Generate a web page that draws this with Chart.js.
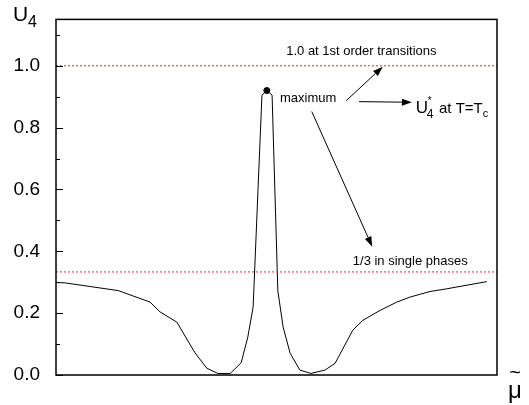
<!DOCTYPE html>
<html>
<head>
<meta charset="utf-8">
<script src="https://cdn.jsdelivr.net/npm/chart.js@4/dist/chart.umd.min.js"></script>
<style>
  body { margin: 0; background: #fff; }
</style>
</head>
<body>
<canvas id="u4Chart" width="529" height="405"></canvas>
<script>
// data (x in arbitrary units 0..1 across the frame)
const muValues = [0, 0.020, 0.141, 0.213, 0.236, 0.274, 0.315, 0.342, 0.367, 0.395,
  0.420, 0.435, 0.447, 0.467, 0.478, 0.490, 0.503, 0.515, 0.531, 0.553,
  0.578, 0.610, 0.633, 0.673, 0.696, 0.735, 0.773, 0.803, 0.848, 0.887, 0.977];
const u4Values = [0.299, 0.298, 0.273, 0.236, 0.204, 0.171, 0.072, 0.022, 0.005, 0.005,
  0.040, 0.123, 0.220, 0.905, 0.920, 0.905, 0.273, 0.155, 0.070, 0.016,
  0.005, 0.016, 0.038, 0.145, 0.177, 0.209, 0.236, 0.252, 0.270, 0.279, 0.302];
const peakPoint = { x: 0.478, y: 0.92 };
const firstOrderLevel = 1.0;
const singlePhaseLevel = 1 / 3;
const yMajorTicks = [0, 0.2, 0.4, 0.6, 0.8, 1.0];
const yMinorTicks = [0.1, 0.3, 0.5, 0.7, 0.9, 1.1];

const FONT = "'Liberation Sans', Arial, sans-serif";

function pts(xs, ys) {
  return xs.map((x, i) => ({ x: x, y: ys[i] }));
}

function arrow(c, x1, y1, x2, y2) {
  const a = Math.atan2(y2 - y1, x2 - x1);
  const len = 10, hw = 3.5;
  c.beginPath();
  c.moveTo(x1, y1);
  c.lineTo(x2 - len * Math.cos(a), y2 - len * Math.sin(a));
  c.stroke();
  c.beginPath();
  c.moveTo(x2, y2);
  c.lineTo(x2 - len * Math.cos(a) + hw * Math.sin(a), y2 - len * Math.sin(a) - hw * Math.cos(a));
  c.lineTo(x2 - len * Math.cos(a) - hw * Math.sin(a), y2 - len * Math.sin(a) + hw * Math.cos(a));
  c.closePath();
  c.fill();
}

// frame, inward ticks, axis titles and the annotations
const decor = {
  id: "decor",
  afterDraw(chart) {
    const c = chart.ctx;
    const a = chart.chartArea;
    const xs = chart.scales.x, ys = chart.scales.y;
    const px = v => xs.getPixelForValue(v);
    const py = v => ys.getPixelForValue(v);
    c.save();
    c.strokeStyle = "#000";
    c.fillStyle = "#000";
    c.lineWidth = 1.5;
    c.strokeRect(a.left, a.top, a.right - a.left, a.bottom - a.top);

    c.lineWidth = 1;
    c.beginPath();
    yMajorTicks.forEach(v => { const y = Math.round(py(v)) + 0.5; c.moveTo(a.left, y); c.lineTo(a.left + 7, y); });
    yMinorTicks.forEach(v => { const y = Math.round(py(v)) + 0.5; c.moveTo(a.left, y); c.lineTo(a.left + 4, y); });
    c.stroke();

    // axis titles
    c.textBaseline = "middle";
    c.textAlign = "left";
    c.font = "21px " + FONT;
    c.fillText("U", 13, 15);
    c.font = "16px " + FONT;
    c.fillText("4", 28, 23);
    c.font = "24px " + FONT;
    c.textAlign = "center";
    c.fillText("\u03bc", 515, 391);
    c.font = "20px " + FONT;
    c.fillText("~", 515, 373);

    // annotations
    c.textAlign = "left";
    c.font = "13px " + FONT;
    c.fillText("1.0 at 1st order transitions", px(0.522), py(1.048));
    c.fillText("maximum", px(0.508), py(0.894));
    c.fillText("1/3 in single phases", px(0.673), py(0.367));

    const ux = px(0.816), uy = py(0.862);
    c.font = "17px " + FONT;
    c.fillText("U", ux, uy);
    c.font = "12px " + FONT;
    c.fillText("4", ux + 11, uy + 6);
    c.font = "10px " + FONT;
    c.fillText("*", ux + 12, uy - 7);
    c.font = "15px " + FONT;
    c.fillText(" at T=T", ux + 19, uy);
    const tw = c.measureText(" at T=T").width;
    c.font = "11px " + FONT;
    c.fillText("c", ux + 19 + tw, uy + 6);

    c.lineWidth = 1;
    arrow(c, px(0.658), py(0.887), px(0.741), py(0.997));
    arrow(c, px(0.687), py(0.884), px(0.807), py(0.882));
    arrow(c, px(0.580), py(0.852), px(0.717), py(0.415));
    c.restore();
  }
};

new Chart(document.getElementById("u4Chart"), {
  type: "line",
  data: {
    datasets: [
      {
        data: pts([0, 1], [firstOrderLevel, firstOrderLevel]),
        borderColor: "#ff2020",
        borderWidth: 1,
        borderDash: [2, 2],
        pointRadius: 0,
      },
      {
        data: pts([0, 1], [singlePhaseLevel, singlePhaseLevel]),
        borderColor: "#ff2020",
        borderWidth: 1,
        borderDash: [2, 2],
        pointRadius: 0,
      },
      {
        data: pts(muValues, u4Values),
        borderColor: "#000",
        borderWidth: 1,
        pointRadius: 0,
        tension: 0,
      },
      {
        type: "scatter",
        data: [peakPoint],
        backgroundColor: "#000",
        borderColor: "#000",
        pointRadius: 3,
      },
    ],
  },
  options: {
    responsive: false,
    animation: false,
    layout: { padding: { top: 18, right: 32, bottom: 30, left: 0 } },
    plugins: { legend: { display: false }, tooltip: { enabled: false } },
    scales: {
      x: { type: "linear", min: 0, max: 1, display: false },
      y: {
        min: 0,
        max: 1.15,
        afterBuildTicks: s => { s.ticks = yMajorTicks.concat(yMinorTicks).sort((p, q) => p - q).map(v => ({ value: v })); },
        afterFit: s => { s.width = 56; },
        grid: { display: false },
        border: { display: false },
        ticks: {
          color: "#000",
          padding: 8,
          font: { family: FONT, size: 19 },
          callback: v => yMajorTicks.some(m => Math.abs(m - v) < 1e-6) ? v.toFixed(1) : "",
        },
      },
    },
  },
  plugins: [decor],
});
</script>
</body>
</html>
